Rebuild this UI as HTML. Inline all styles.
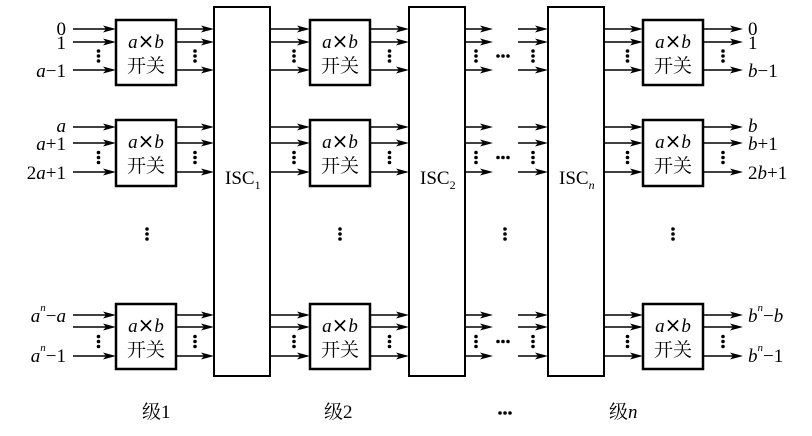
<!DOCTYPE html>
<html><head><meta charset="utf-8"><style>
html,body{margin:0;padding:0;background:#fff;}
svg{display:block;}
text{font-family:"Liberation Serif","Noto Serif CJK SC",serif;fill:#000;}
.it{font-style:italic;}
</style></head><body>
<svg id="s" width="812" height="436" viewBox="0 0 812 436" xmlns="http://www.w3.org/2000/svg">
<g id="g" stroke="#000" fill="none" stroke-width="1.6"></g>
<g font-size="19">
<text x="225" y="184">ISC<tspan font-size="12" dy="5">1</tspan></text>
<text x="420" y="184">ISC<tspan font-size="12" dy="5">2</tspan></text>
<text x="559" y="184">ISC<tspan font-size="12" dy="5" class="it">n</tspan></text>
<text x="66" y="35" text-anchor="end">0</text>
<text x="66" y="49" text-anchor="end">1</text>
<text x="66" y="77" text-anchor="end"><tspan class="it">a</tspan>−1</text>
<text x="66" y="132" text-anchor="end" class="it">a</text>
<text x="66" y="150" text-anchor="end"><tspan class="it">a</tspan>+1</text>
<text x="66" y="179" text-anchor="end">2<tspan class="it">a</tspan>+1</text>
<text x="66" y="322" text-anchor="end"><tspan class="it">a</tspan><tspan class="it" font-size="11" dy="-11">n</tspan><tspan dy="11">−</tspan><tspan class="it">a</tspan></text>
<text x="66" y="362" text-anchor="end"><tspan class="it">a</tspan><tspan class="it" font-size="11" dy="-11">n</tspan><tspan dy="11">−1</tspan></text>
<text x="748" y="35">0</text>
<text x="748" y="49">1</text>
<text x="748" y="77"><tspan class="it">b</tspan>−1</text>
<text x="748" y="132" class="it">b</text>
<text x="748" y="150"><tspan class="it">b</tspan>+1</text>
<text x="748" y="179">2<tspan class="it">b</tspan>+1</text>
<text x="748" y="322"><tspan class="it">b</tspan><tspan class="it" font-size="11" dy="-11">n</tspan><tspan dy="11">−</tspan><tspan class="it">b</tspan></text>
<text x="748" y="362"><tspan class="it">b</tspan><tspan class="it" font-size="11" dy="-11">n</tspan><tspan dy="11">−1</tspan></text>
<text x="142" y="418">级1</text>
<text x="324" y="418">级2</text>
<text x="609" y="418">级<tspan class="it">n</tspan></text>
</g>
<g id="boxes" font-size="19" text-anchor="middle"></g>
</svg>
<script>
var g=document.getElementById('g'),NS='http://www.w3.org/2000/svg';
function el(t,a,p){var e=document.createElementNS(NS,t);for(var k in a)e.setAttribute(k,a[k]);(p||g).appendChild(e);return e;}
function arrow(x1,x2,y){el('line',{x1:x1,y1:y,x2:x2-8,y2:y});el('path',{d:'M'+(x2-13)+' '+(y-3.5)+'L'+x2+' '+y+'L'+(x2-13)+' '+(y+3.5)+'L'+(x2-10)+' '+y+'Z',fill:'#000',stroke:'none'});}
function vd(x,y){for(var i=0;i<3;i++)el('circle',{cx:x,cy:y+i*5,r:1.8,fill:'#000',stroke:'none'});}
function hd(x,y){for(var i=0;i<3;i++)el('circle',{cx:x+i*5,cy:y,r:1.8,fill:'#000',stroke:'none'});}
var rows=[[20,85,[29,42,70]],[120,186,[127,143,172]],[304,369,[315,327,356]]];
var cols=[[73,116,176,214],[270,310,370,409],[604,643,703,743]];
[[214,270],[409,465],[548,604]].forEach(function(c){el('rect',{x:c[0],y:7,width:c[1]-c[0],height:369,'stroke-width':2});});
var bx=document.getElementById('boxes');
rows.forEach(function(r){
 var ys=r[2],mid=(ys[1]+ys[2])/2-5;
 cols.forEach(function(c){
  ys.forEach(function(y){arrow(c[0],c[1],y);arrow(c[2],c[3],y);});
  el('rect',{x:c[1],y:r[0],width:c[2]-c[1],height:r[1]-r[0],'stroke-width':2.5});
  vd((c[0]+c[1])/2+4,mid);vd((c[2]+c[3])/2,mid);
  var cx=(c[1]+c[2])/2;
  var t=el('text',{x:cx,y:r[0]+28},bx);t.innerHTML='<tspan class="it">a</tspan><tspan font-family="DejaVu Sans" font-size="20">×</tspan><tspan class="it">b</tspan>';
  var t2=el('text',{x:cx,y:r[0]+52},bx);t2.textContent='开关';
 });
 ys.forEach(function(y){arrow(465,493,y);arrow(518,548,y);});
 vd(476,mid);vd(533,mid);hd(498,mid+5);
});
[147,340,505,673].forEach(function(x){vd(x,229);});
hd(500,413);
</script>
</body></html>
